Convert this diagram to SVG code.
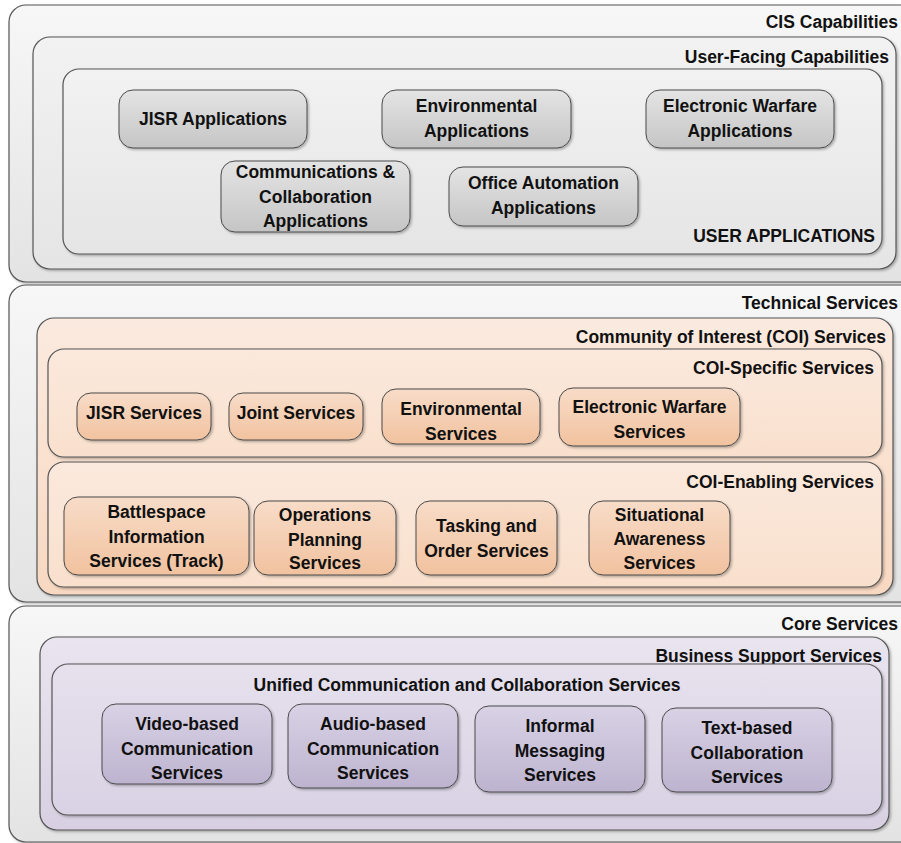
<svg xmlns="http://www.w3.org/2000/svg" width="901" height="843" viewBox="0 0 901 843">
<defs>
<linearGradient id="gOuter" x1="0" y1="0" x2="0" y2="1"><stop offset="0" stop-color="#f7f7f7"/><stop offset="1" stop-color="#e3e3e3"/></linearGradient>
<linearGradient id="gGreyBox" x1="0" y1="0" x2="0" y2="1"><stop offset="0" stop-color="#f2f2f2"/><stop offset="1" stop-color="#e5e5e5"/></linearGradient>
<linearGradient id="gGreyNode" x1="0" y1="0" x2="0" y2="1"><stop offset="0" stop-color="#e4e4e4"/><stop offset="1" stop-color="#c5c5c5"/></linearGradient>
<linearGradient id="gPeachOuter" x1="0" y1="0" x2="0" y2="1"><stop offset="0" stop-color="#fbeadf"/><stop offset="1" stop-color="#f8d8c1"/></linearGradient>
<linearGradient id="gPeachBox" x1="0" y1="0" x2="0" y2="1"><stop offset="0" stop-color="#fbe9dd"/><stop offset="1" stop-color="#f9e0cd"/></linearGradient>
<linearGradient id="gPeachNode" x1="0" y1="0" x2="0" y2="1"><stop offset="0" stop-color="#f8dcc8"/><stop offset="1" stop-color="#f1c29f"/></linearGradient>
<linearGradient id="gPurpleOuter" x1="0" y1="0" x2="0" y2="1"><stop offset="0" stop-color="#e9e5ef"/><stop offset="1" stop-color="#d8d0e2"/></linearGradient>
<linearGradient id="gPurpleBox" x1="0" y1="0" x2="0" y2="1"><stop offset="0" stop-color="#e6e1ed"/><stop offset="1" stop-color="#d9d2e4"/></linearGradient>
<linearGradient id="gPurpleNode" x1="0" y1="0" x2="0" y2="1"><stop offset="0" stop-color="#d9d2e5"/><stop offset="1" stop-color="#bdb3cf"/></linearGradient>
<filter id="sh" x="-5%" y="-5%" width="115%" height="120%"><feDropShadow dx="1.5" dy="1.5" stdDeviation="1" flood-color="#000" flood-opacity="0.28"/></filter>
</defs>
<style>
rect{stroke:#555;stroke-width:1.2;filter:url(#sh)}
.node rect{stroke:#4a4a4a;stroke-width:1}
text{font-family:"Liberation Sans",Arial,sans-serif;font-weight:bold;font-size:17.5px;fill:#111}
.t{text-anchor:end}
.c{text-anchor:middle}
</style>
<rect width="901" height="843" fill="#ffffff" style="stroke:none;filter:none"/>

<g id="cis-capabilities">
<rect x="9" y="5" width="912" height="277" rx="17" fill="url(#gOuter)"/>
<text class="t" x="898" y="28">CIS Capabilities</text>
</g>
<g id="user-facing-capabilities">
<rect x="33" y="37" width="863" height="232" rx="17" fill="url(#gGreyBox)"/>
<text class="t" x="889" y="63">User-Facing Capabilities</text>
</g>
<g id="user-applications">
<rect x="63" y="69" width="819" height="185" rx="16" fill="url(#gGreyBox)"/>
<text class="t" x="875" y="242">USER APPLICATIONS</text>
</g>
<g id="jisr-applications" class="node">
<rect x="119" y="90" width="188" height="58" rx="14" fill="url(#gGreyNode)"/>
<text class="c" x="213" y="125">JISR Applications</text>
</g>
<g id="environmental-applications" class="node">
<rect x="382" y="90" width="189" height="58" rx="14" fill="url(#gGreyNode)"/>
<text class="c" x="476.5" y="112">Environmental</text>
<text class="c" x="476.5" y="137">Applications</text>
</g>
<g id="electronic-warfare-applications" class="node">
<rect x="646" y="90" width="188" height="58" rx="14" fill="url(#gGreyNode)"/>
<text class="c" x="740" y="112">Electronic Warfare</text>
<text class="c" x="740" y="137">Applications</text>
</g>
<g id="communications-collaboration-applications" class="node">
<rect x="221" y="161" width="189" height="71" rx="14" fill="url(#gGreyNode)"/>
<text class="c" x="315.5" y="178">Communications &amp;</text>
<text class="c" x="315.5" y="203">Collaboration</text>
<text class="c" x="315.5" y="227">Applications</text>
</g>
<g id="office-automation-applications" class="node">
<rect x="449" y="167" width="189" height="59" rx="14" fill="url(#gGreyNode)"/>
<text class="c" x="543.5" y="189">Office Automation</text>
<text class="c" x="543.5" y="214">Applications</text>
</g>

<g id="technical-services">
<rect x="9" y="285" width="912" height="317" rx="17" fill="url(#gOuter)"/>
<text class="t" x="898" y="309">Technical Services</text>
</g>
<g id="coi-services">
<rect x="37" y="318" width="856" height="277" rx="17" fill="url(#gPeachOuter)"/>
<text class="t" x="886" y="343">Community of Interest (COI) Services</text>
</g>
<g id="coi-specific-services">
<rect x="48" y="349" width="834" height="108" rx="16" fill="url(#gPeachBox)"/>
<text class="t" x="874" y="374">COI-Specific Services</text>
</g>
<g id="jisr-services" class="node">
<rect x="77" y="393" width="134" height="47" rx="14" fill="url(#gPeachNode)"/>
<text class="c" x="144" y="419">JISR Services</text>
</g>
<g id="joint-services" class="node">
<rect x="229" y="393" width="134" height="47" rx="14" fill="url(#gPeachNode)"/>
<text class="c" x="296" y="419">Joint Services</text>
</g>
<g id="environmental-services" class="node">
<rect x="382" y="389" width="158" height="55" rx="14" fill="url(#gPeachNode)"/>
<text class="c" x="461" y="415">Environmental</text>
<text class="c" x="461" y="440">Services</text>
</g>
<g id="electronic-warfare-services" class="node">
<rect x="559" y="388" width="181" height="58" rx="14" fill="url(#gPeachNode)"/>
<text class="c" x="649.5" y="413">Electronic Warfare</text>
<text class="c" x="649.5" y="438">Services</text>
</g>
<g id="coi-enabling-services">
<rect x="48" y="462" width="834" height="125" rx="16" fill="url(#gPeachBox)"/>
<text class="t" x="874" y="488">COI-Enabling Services</text>
</g>
<g id="battlespace-information-services" class="node">
<rect x="64" y="497" width="185" height="78" rx="14" fill="url(#gPeachNode)"/>
<text class="c" x="156.5" y="518">Battlespace</text>
<text class="c" x="156.5" y="543">Information</text>
<text class="c" x="156.5" y="567">Services (Track)</text>
</g>
<g id="operations-planning-services" class="node">
<rect x="254" y="501" width="142" height="74" rx="14" fill="url(#gPeachNode)"/>
<text class="c" x="325" y="521">Operations</text>
<text class="c" x="325" y="546">Planning</text>
<text class="c" x="325" y="569">Services</text>
</g>
<g id="tasking-order-services" class="node">
<rect x="416" y="501" width="141" height="74" rx="14" fill="url(#gPeachNode)"/>
<text class="c" x="486.5" y="532">Tasking and</text>
<text class="c" x="486.5" y="557">Order Services</text>
</g>
<g id="situational-awareness-services" class="node">
<rect x="589" y="501" width="141" height="74" rx="14" fill="url(#gPeachNode)"/>
<text class="c" x="659.5" y="521">Situational</text>
<text class="c" x="659.5" y="545">Awareness</text>
<text class="c" x="659.5" y="569">Services</text>
</g>

<g id="core-services">
<rect x="9" y="606" width="912" height="236" rx="17" fill="url(#gOuter)"/>
<text class="t" x="898" y="630">Core Services</text>
</g>
<g id="business-support-services">
<rect x="40" y="637" width="849" height="193" rx="17" fill="url(#gPurpleOuter)"/>
<text class="t" x="882" y="662">Business Support Services</text>
</g>
<g id="unified-communication-collaboration-services">
<rect x="52" y="664" width="830" height="151" rx="16" fill="url(#gPurpleBox)"/>
<text class="c" x="467" y="691">Unified Communication and Collaboration Services</text>
</g>
<g id="video-based-communication-services" class="node">
<rect x="102" y="704" width="170" height="80" rx="14" fill="url(#gPurpleNode)"/>
<text class="c" x="187" y="730">Video-based</text>
<text class="c" x="187" y="755">Communication</text>
<text class="c" x="187" y="779">Services</text>
</g>
<g id="audio-based-communication-services" class="node">
<rect x="288" y="704" width="170" height="84" rx="14" fill="url(#gPurpleNode)"/>
<text class="c" x="373" y="730">Audio-based</text>
<text class="c" x="373" y="755">Communication</text>
<text class="c" x="373" y="779">Services</text>
</g>
<g id="informal-messaging-services" class="node">
<rect x="475" y="706" width="170" height="86" rx="14" fill="url(#gPurpleNode)"/>
<text class="c" x="560" y="732">Informal</text>
<text class="c" x="560" y="757">Messaging</text>
<text class="c" x="560" y="781">Services</text>
</g>
<g id="text-based-collaboration-services" class="node">
<rect x="662" y="708" width="170" height="84" rx="14" fill="url(#gPurpleNode)"/>
<text class="c" x="747" y="734">Text-based</text>
<text class="c" x="747" y="759">Collaboration</text>
<text class="c" x="747" y="783">Services</text>
</g>
</svg>
